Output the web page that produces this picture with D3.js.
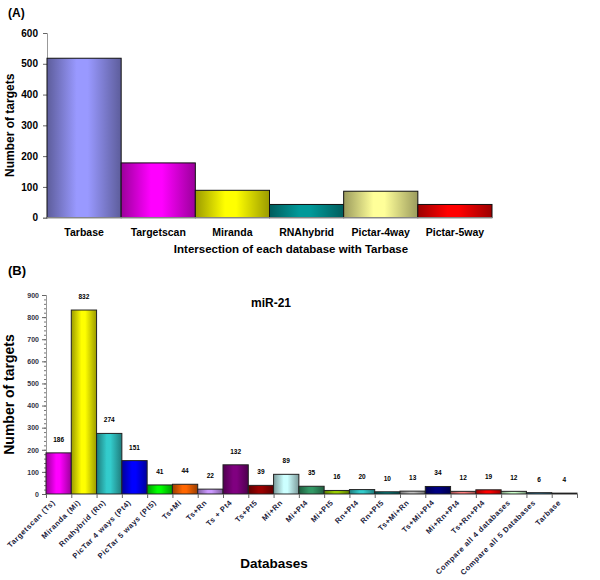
<!DOCTYPE html>
<html>
<head>
<meta charset="utf-8">
<script src="https://cdn.jsdelivr.net/npm/d3@7"></script>
<style>
  body { margin: 0; background: #fff; }
  text { font-family: Arial, "Liberation Sans", sans-serif; font-weight: bold; }
</style>
</head>
<body>
<div id="chart"></div>
<script>
// panel A data
var catsA = ["Tarbase", "Targetscan", "Miranda", "RNAhybrid", "Pictar-4way", "Pictar-5way"];
var valsA = [518, 178, 89, 43, 86, 43];
var ticksA = [0, 100, 200, 300, 400, 500, 600];

// panel B data
var catsB = ["Targetscan (Ts)", "Miranda (Mi)", "Rnahybrid (Rn)", "PicTar 4 ways (Pt4)", "PicTar 5 ways (Pt5)",
  "Ts+Mi", "Ts+Rn", "Ts + Pt4", "Ts+Pt5", "Mi+Rn", "Mi+Pt4", "Mi+Pt5", "Rn+Pt4", "Rn+Pt5",
  "Ts+Mi+Rn", "Ts+Mi+Pt4", "Mi+Rn+Pt4", "Ts+Rn+Pt4", "Compare all 4 databases", "Compare all 5 Databases", "Tarbase"];
var valsB = [186, 832, 274, 151, 41, 44, 22, 132, 39, 89, 35, 16, 20, 10, 13, 34, 12, 19, 12, 6, 4];
var ticksB = [0, 100, 200, 300, 400, 500, 600, 700, 800, 900];

var paletteA = ["#9999ff", "#ff00ff", "#ffff00", "#009999", "#ffff99", "#ff0000"];
var paletteB = ["#ff00ff", "#ffff00", "#33cccc", "#0000ff", "#00ff00", "#ff6600", "#cc99ff", "#800080",
  "#990000", "#ccffff", "#339966", "#99cc00", "#33cccc", "#008080", "#c0c0c0", "#000080",
  "#ff8080", "#ff0000", "#ccffcc", "#3399cc", "#e0e0e0"];

var width = 600, height = 580;

var svg = d3.select("#chart").append("svg")
  .attr("width", width)
  .attr("height", height);

var defs = svg.append("defs");

function grad(id, c) {
  var g = defs.append("linearGradient").attr("id", id)
    .attr("x1", "0%").attr("x2", "100%").attr("y1", "0%").attr("y2", "0%");
  var dark = d3.color(c).darker(1.4);
  g.append("stop").attr("offset", "0%").attr("stop-color", dark);
  g.append("stop").attr("offset", "40%").attr("stop-color", c);
  g.append("stop").attr("offset", "55%").attr("stop-color", c);
  g.append("stop").attr("offset", "100%").attr("stop-color", dark);
  return "url(#" + id + ")";
}

// ---------- panel A ----------
var xA = d3.scaleBand().domain(catsA).range([47, 492]).padding(0);
var yA = d3.scaleLinear().domain([0, 600]).range([217.7, 33]);

svg.append("text").attr("x", 8).attr("y", 17).attr("font-size", 12).text("(A)");

var axA = svg.append("g").attr("transform", "translate(47,0)")
  .call(d3.axisLeft(yA).tickValues(ticksA).tickSize(4).tickPadding(5));
axA.select(".domain").attr("stroke", "#999");
axA.selectAll(".tick line").attr("stroke", "#666");
axA.selectAll(".tick text").attr("font-size", 10).attr("fill", "#000")
  .style("font-family", "Arial, 'Liberation Sans', sans-serif").style("font-weight", "bold");

svg.append("g").selectAll("rect")
  .data(valsA)
  .join("rect")
  .attr("x", (d, i) => xA(catsA[i]))
  .attr("y", d => yA(d))
  .attr("width", xA.bandwidth())
  .attr("height", d => yA(0) - yA(d))
  .attr("fill", (d, i) => grad("ga" + i, paletteA[i]))
  .attr("stroke", "#111")
  .attr("stroke-width", 1);

svg.append("line").attr("x1", 47).attr("x2", 492).attr("y1", yA(0)).attr("y2", yA(0))
  .attr("stroke", "#999");

svg.append("g").selectAll("text")
  .data(catsA)
  .join("text")
  .attr("x", d => xA(d) + xA.bandwidth() / 2)
  .attr("y", 236)
  .attr("text-anchor", "middle")
  .attr("font-size", 10.5)
  .text(d => d);

svg.append("text").attr("x", 291).attr("y", 253).attr("text-anchor", "middle")
  .attr("font-size", 11.5).text("Intersection of each database with Tarbase");

svg.append("text").attr("transform", "translate(14," + ((yA(0) + yA(600)) / 2) + ") rotate(-90)")
  .attr("text-anchor", "middle").attr("font-size", 12).text("Number of targets");

// ---------- panel B ----------
var xB = d3.scaleBand().domain(catsB).range([46, 577]).padding(0);
var yB = d3.scaleLinear().domain([0, 900]).range([494, 295]);

svg.append("text").attr("x", 8).attr("y", 275).attr("font-size", 13).text("(B)");

var minorB = svg.append("g").attr("transform", "translate(46,0)")
  .call(d3.axisLeft(yB).tickValues(d3.range(0, 901, 20)).tickSize(2).tickFormat(""));
minorB.select(".domain").attr("stroke", "#999");
minorB.selectAll(".tick line").attr("stroke", "#777");

var axB = svg.append("g").attr("transform", "translate(46,0)")
  .call(d3.axisLeft(yB).tickValues(ticksB).tickSize(4).tickPadding(3));
axB.select(".domain").attr("stroke", "#999");
axB.selectAll(".tick line").attr("stroke", "#666");
axB.selectAll(".tick text").attr("font-size", 7).attr("fill", "#334")
  .style("font-family", "Arial, 'Liberation Sans', sans-serif").style("font-weight", "bold");

svg.append("g").selectAll("rect")
  .data(valsB)
  .join("rect")
  .attr("x", (d, i) => xB(catsB[i]))
  .attr("y", d => yB(d))
  .attr("width", xB.bandwidth())
  .attr("height", d => yB(0) - yB(d))
  .attr("fill", (d, i) => grad("gb" + i, paletteB[i]))
  .attr("stroke", "#222")
  .attr("stroke-width", 1);

var axBx = svg.append("g").attr("transform", "translate(0," + yB(0) + ")")
  .call(d3.axisBottom(d3.scaleLinear().domain([0, catsB.length]).range([46, 577]))
    .tickValues(d3.range(0, catsB.length + 1)).tickSize(4).tickFormat(""));
axBx.select(".domain").attr("stroke", "#999");
axBx.selectAll(".tick line").attr("stroke", "#666");

svg.append("g").selectAll("text")
  .data(valsB)
  .join("text")
  .attr("x", (d, i) => xB(catsB[i]) + xB.bandwidth() / 2)
  .attr("y", d => yB(d) - 11)
  .attr("text-anchor", "middle")
  .attr("font-size", 6.5)
  .text(d => d);

svg.append("g").selectAll("text")
  .data(catsB)
  .join("text")
  .attr("transform", d => "translate(" + (xB(d) + xB.bandwidth() / 2 - 3) + "," + 503 + ") rotate(-45)")
  .attr("text-anchor", "end")
  .attr("font-size", 7.5)
  .attr("fill", "#1a1a3a")
  .style("letter-spacing", "0.6px")
  .text(d => d);

svg.append("text").attr("x", 271).attr("y", 307).attr("text-anchor", "middle")
  .attr("font-size", 12).text("miR-21");

svg.append("text").attr("x", 274).attr("y", 568).attr("text-anchor", "middle")
  .attr("font-size", 13.5).text("Databases");

svg.append("text").attr("transform", "translate(14," + ((yB(0) + yB(900)) / 2) + ") rotate(-90)")
  .attr("text-anchor", "middle").attr("font-size", 14).text("Number of targets");
</script>
</body>
</html>
